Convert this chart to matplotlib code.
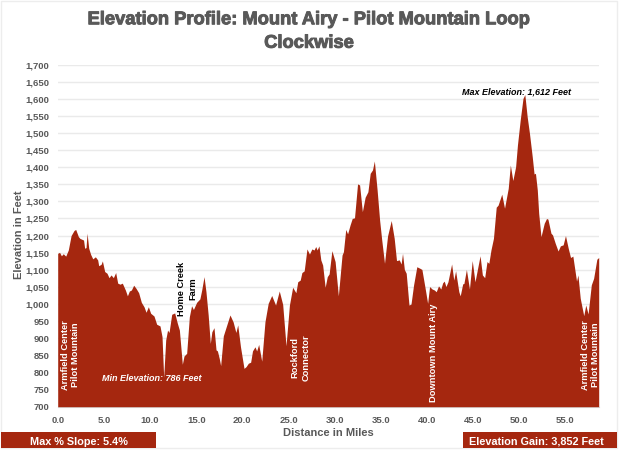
import matplotlib
matplotlib.use('Agg')
import matplotlib.pyplot as plt
import matplotlib.patheffects as pe
from matplotlib.patches import Rectangle
from matplotlib.ticker import FuncFormatter

plt.rcParams['font.family'] = ['Liberation Sans', 'DejaVu Sans']

# distance in miles
miles = [0, 0.2, 0.4, 0.6, 0.87, 1.15, 1.45, 1.77, 1.95, 2.24, 2.4, 2.8, 2.92, 3.07, 3.18, 3.36, 3.57, 3.8,
         4.08, 4.33, 4.44, 4.7, 4.84, 5.09, 5.34, 5.56, 5.78, 6.03, 6.28, 6.5, 6.75, 7.0, 7.33, 7.55, 7.76,
         7.98, 8.23, 8.48, 8.77, 9.06, 9.35, 9.57, 9.82, 10.07, 10.43, 10.72, 11.08, 11.3, 11.48, 11.7, 11.9,
         12.06, 12.35, 12.67, 12.96, 13.18, 13.5, 13.68, 13.97, 14.26, 14.5, 14.7, 15.05, 15.4, 15.6, 15.85,
         16.06, 16.3, 16.53, 16.7, 16.93, 17.15, 17.3, 17.5, 17.65, 17.94, 18.2, 18.66, 19.0, 19.3, 19.5,
         19.8, 20.18, 20.4, 20.65, 20.9, 21.1, 21.37, 21.55, 21.77, 22.1, 22.45, 22.8, 23.18, 23.6, 24.0,
         24.37, 24.73, 25.1, 25.45, 25.8, 26.0, 26.27, 26.45, 26.7, 27.0, 27.27, 27.53, 27.77, 27.95, 28.1,
         28.3, 28.5, 28.7, 28.97, 29.2, 29.4, 29.7, 30.05, 30.4, 30.8, 30.95, 31.2, 31.4, 31.67, 31.9, 32.15,
         32.48, 32.7, 33.0, 33.3, 33.6, 33.85, 34.1, 34.3, 34.6, 34.87, 35.1, 35.4, 35.73, 36.13, 36.45, 36.7,
         37.0, 37.2, 37.35, 37.55, 37.75, 38.05, 38.27, 38.55, 38.9, 39.27, 39.45, 39.8, 40.07, 40.28, 40.55,
         40.8, 41.0, 41.25, 41.5, 41.7, 41.87, 42.05, 42.27, 42.67, 42.9, 43.1, 43.45, 43.6, 43.87, 44.0,
         44.27, 44.6, 44.9, 45.2, 45.75, 46.0, 46.25, 46.5, 46.7, 46.93, 47.2, 47.5, 47.7, 48.1, 48.4, 48.8,
         49.03, 49.3, 49.6, 49.8, 50.1, 50.4, 50.6, 50.85, 51.1, 51.4, 51.6, 51.75, 51.95, 52.1, 52.35, 52.7,
         52.95, 53.1, 53.43, 53.6, 53.9, 54.2, 54.45, 54.75, 55.0, 55.3, 55.55, 55.8, 56.2, 56.35, 56.6,
         56.98, 57.2, 57.45, 57.8, 58.05, 58.4, 58.6]

# elevation in feet
elevation = [1148, 1151, 1141, 1147, 1140, 1158, 1200, 1215, 1218, 1197, 1192, 1187, 1163, 1165, 1207, 1163, 1145, 1132,
             1138, 1129, 1112, 1116, 1126, 1095, 1090, 1077, 1085, 1077, 1092, 1061, 1058, 1061, 1041, 1024, 1038,
             1041, 1055, 1046, 1033, 1005, 992, 976, 992, 973, 965, 941, 936, 905, 786, 895, 924,
             917, 970, 974, 944, 924, 824, 848, 856, 963, 995, 984, 1005, 1015, 1041, 1080,
             1036, 968, 885, 919, 931, 866, 863, 841, 820, 907, 929, 968, 948, 917, 939,
             875, 812, 817, 827, 830, 863, 875, 863, 882, 833, 948, 1002, 1025, 997, 1038,
             999, 878, 997, 1049, 1033, 1065, 1070, 1092, 1097, 1161, 1146, 1161, 1158, 1168, 1158,
             1170, 1129, 1114, 1049, 1080, 1088, 1156, 1124, 1024, 1143, 1153, 1218, 1205, 1231, 1250, 1252,
             1351, 1348, 1270, 1312, 1328, 1382, 1392, 1418, 1333, 1245, 1187, 1119, 1199, 1244, 1192, 1127,
             1129, 1117, 1148, 1101, 1090, 997, 1000, 1056, 1109, 1104, 1101, 1046, 1002, 1051, 1044,
             1041, 1036, 1053, 1044, 1062, 1067, 1051, 1065, 1117, 1070, 1097, 1036, 1024, 1059, 1060,
             1101, 1044, 1127, 1065, 1141, 1085, 1077, 1124, 1119, 1158, 1192, 1283, 1289, 1321, 1280, 1338,
             1406, 1361, 1401, 1465, 1538, 1601, 1612, 1548, 1499, 1431, 1380, 1382, 1333, 1265, 1197, 1236,
             1250, 1248, 1207, 1202, 1177, 1155, 1170, 1173, 1200, 1163, 1136, 1140, 1067, 1085, 1017,
             966, 997, 971, 1056, 1075, 1131, 1136]

x_ticks = [0, 5, 10, 15, 20, 25, 30, 35, 40, 45, 50, 55]
y_ticks = list(range(700, 1701, 50))

red = '#A5270F'
gray = '#595959'
W = 619
H = 450


# pixel position (from top left) to figure fraction
def fx(px):
    return px / W


def fy(px):
    return 1 - px / H


fig = plt.figure(figsize=(6.19, 4.5), dpi=100, facecolor='white')
ax = fig.add_axes([fx(57.7), fy(406.7), (598.7 - 57.7) / W, (406.7 - 64.5) / H])

ax.fill_between(miles, elevation, 700, color=red, linewidth=0, zorder=3)
ax.set_xlim(0, 58.6)
ax.set_ylim(700, 1700)
ax.set_xticks(x_ticks)
ax.set_yticks(y_ticks)
ax.xaxis.set_major_formatter(FuncFormatter(lambda v, p: f'{v:.1f}'))
ax.yaxis.set_major_formatter(FuncFormatter(lambda v, p: f'{int(v):,}'))
ax.tick_params(length=0, labelsize=6.8, labelcolor=gray)
ax.tick_params(axis='x', pad=7)
ax.tick_params(axis='y', pad=6)
for lab in ax.get_xticklabels() + ax.get_yticklabels():
    lab.set_fontweight('bold')
ax.grid(axis='y', color='#EAEAEA', linewidth=1)
ax.set_axisbelow(True)
for s in ['top', 'right', 'left']:
    ax.spines[s].set_visible(False)
ax.spines['bottom'].set_color('#D9D9D9')

# outer chart frame
fig.patches.append(Rectangle((fx(1), fy(448)), 616 / W, 447 / H, transform=fig.transFigure,
                             facecolor='none', edgecolor='#EDEDED', linewidth=1))

title = fig.text(fx(309), fy(31.5), 'Elevation Profile: Mount Airy - Pilot Mountain Loop\nClockwise',
                 ha='center', va='center', fontsize=13.2, fontweight='bold', color=gray, linespacing=1.5)
title.set_path_effects([pe.withStroke(linewidth=0.7, foreground=gray)])

fig.text(fx(19), fy(235), 'Elevation in Feet', rotation=90, ha='center', va='center',
         fontsize=8, fontweight='bold', color=gray)
fig.text(fx(328), fy(432.5), 'Distance in Miles', ha='center', va='center',
         fontsize=8, fontweight='bold', color=gray)


# labels on the profile
def vlabel(x, y, s, color='white'):
    fig.text(fx(x), fy(y), s, rotation=90, ha='center', va='center', fontsize=6.7,
             fontweight='bold', color=color, linespacing=1.2, zorder=5)


vlabel(70.5, 355, 'Armfield Center\nPilot Mountain')
vlabel(590.5, 355, 'Armfield Center\nPilot Mountain')
vlabel(300.5, 357.5, 'Rockford\nConnector')
vlabel(433, 352.5, 'Downtown Mount Airy')
vlabel(187.2, 289, 'Home Creek\nFarm', color='black')

fig.text(fx(152), fy(378.5), 'Min Elevation: 786 Feet', ha='center', va='center', fontsize=6.5,
         fontweight='bold', fontstyle='italic', color='white', zorder=5)
fig.text(fx(516.5), fy(91.5), 'Max Elevation: 1,612 Feet', ha='center', va='center', fontsize=6.5,
         fontweight='bold', fontstyle='italic', color='black', zorder=5)

# boxes along the bottom
fig.patches.append(Rectangle((fx(1), fy(448)), 155 / W, 16 / H, transform=fig.transFigure,
                             facecolor=red, edgecolor='none'))
fig.patches.append(Rectangle((fx(462.7), fy(448)), 154.3 / W, 16 / H, transform=fig.transFigure,
                             facecolor=red, edgecolor='none'))
fig.text(fx(78.5), fy(442), 'Max % Slope: 5.4%', ha='center', va='center', fontsize=7.8,
         fontweight='bold', color='white')
fig.text(fx(536), fy(442), 'Elevation Gain: 3,852 Feet', ha='center', va='center', fontsize=7.8,
         fontweight='bold', color='white')

fig.savefig('out.png', dpi=100)
